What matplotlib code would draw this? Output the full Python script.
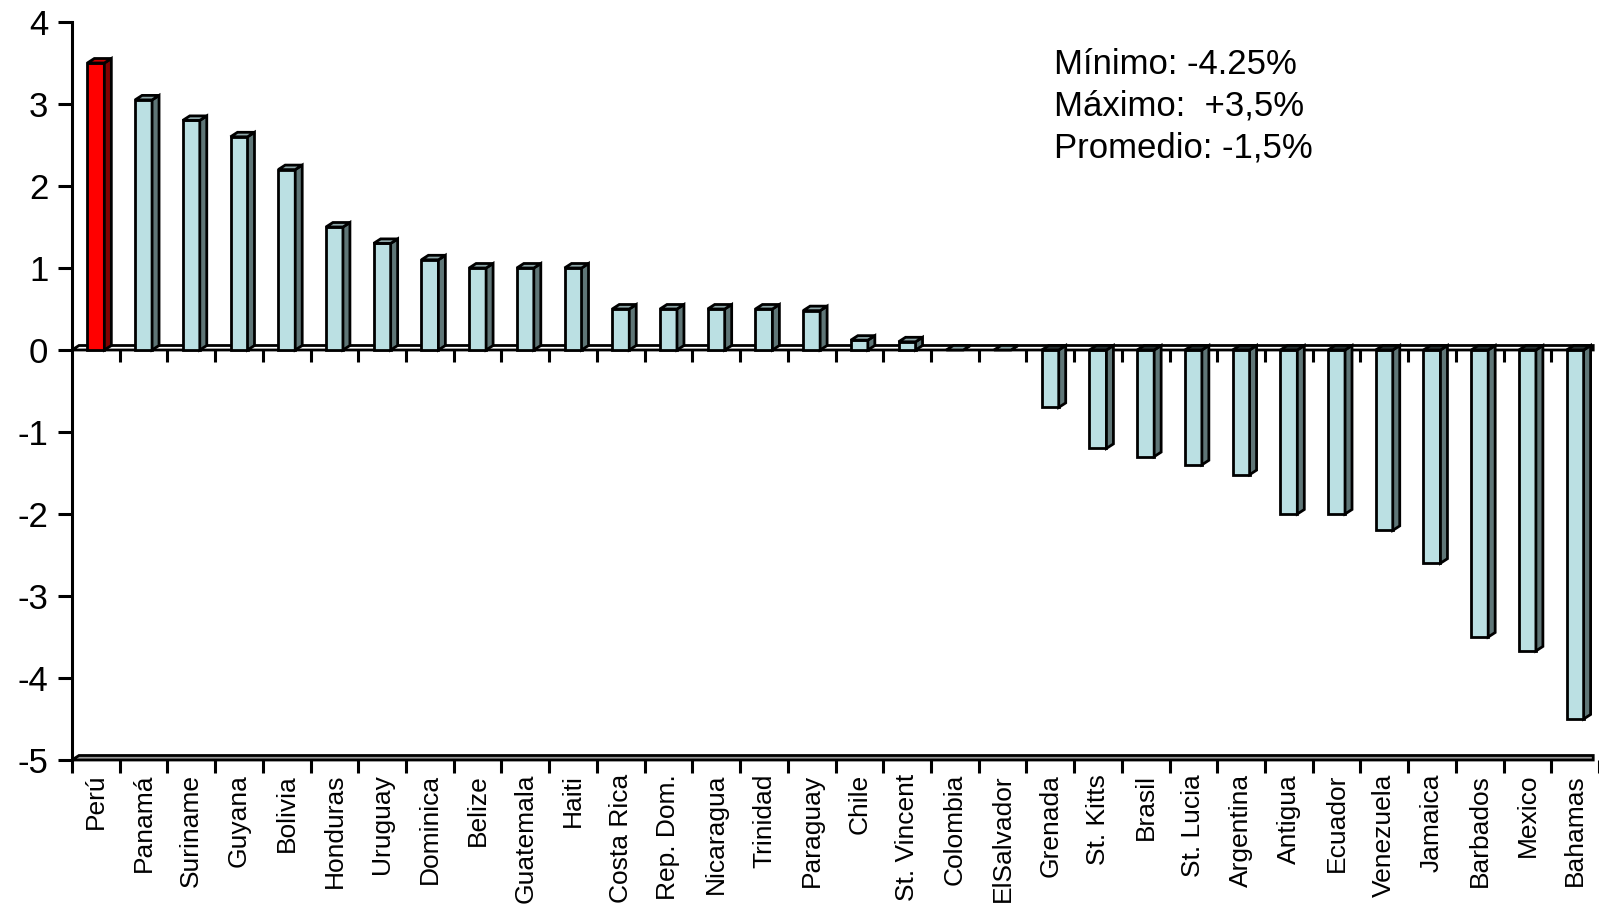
import numpy as np
import matplotlib.pyplot as plt
from matplotlib.patches import Polygon, Rectangle

plt.rcParams['font.family'] = ['Liberation Sans', 'DejaVu Sans']

countries = ["Perú", "Panamá", "Suriname", "Guyana", "Bolivia", "Honduras",
             "Uruguay", "Dominica", "Belize", "Guatemala", "Haiti", "Costa Rica",
             "Rep. Dom.", "Nicaragua", "Trinidad", "Paraguay", "Chile",
             "St. Vincent", "Colombia", "ElSalvador", "Grenada", "St. Kitts",
             "Brasil", "St. Lucia", "Argentina", "Antigua", "Ecuador",
             "Venezuela", "Jamaica", "Barbados", "Mexico", "Bahamas"]
growth = [3.5, 3.05, 2.8, 2.6, 2.2, 1.5,
          1.3, 1.1, 1.0, 1.0, 1.0, 0.5,
          0.5, 0.5, 0.5, 0.48, 0.12,
          0.1, 0.0, 0.0, -0.7, -1.2,
          -1.3, -1.4, -1.52, -2.0, -2.0,
          -2.2, -2.6, -3.5, -3.67, -4.5]
highlight = "Perú"
y_ticks = [4, 3, 2, 1, 0, -1, -2, -3, -4, -5]
notes = ["Mínimo: -4.25%", "Máximo:  +3,5%", "Promedio: -1,5%"]

# colours for the faces of the pseudo-3d columns
face_blue, side_blue, top_blue = "#BBE0E3", "#5F7677", "#8FA8AA"
face_red, side_red, top_red = "#FF0000", "#800000", "#C80000"

W, H = 1599, 908
fig = plt.figure(figsize=(W / 100, H / 100), dpi=100)
x_left, y_top, y_bot = 72, 22, 760
step = 47.9
ax = fig.add_axes([x_left / W, (H - y_bot) / H, (W - x_left) / W, (y_bot - y_top) / H])
xmax = (W - x_left) / step
ax.set_xlim(0, xmax)
ax.set_ylim(-5, 4)

dx = 7 / step                          # depth offset in x (data units)
dy = 4.5 / ((y_bot - y_top) / 9.0)     # depth offset in y
hw = 0.178                             # half width of a column front
lw = 2.0

# floor at -5 and the zero plane
ax.add_patch(Polygon([(0, -5), (dx, -5 + dy), (xmax, -5 + dy), (xmax, -5)],
                     closed=True, facecolor="#9A9A9A", edgecolor="black", lw=lw,
                     zorder=1, clip_on=False))
ax.add_patch(Polygon([(0, 0), (dx, dy), (xmax, dy), (xmax, 0)],
                     closed=True, facecolor="white", edgecolor="black", lw=lw,
                     zorder=2, clip_on=False))

# ticks hanging under the zero line
for k in range(1, len(countries)):
    ax.plot([k, k], [0, -0.15], color="black", lw=2.2, zorder=2, solid_capstyle="butt")

for i, (name, v) in enumerate(zip(countries, growth)):
    c = i + 0.5
    if name == highlight:
        fc, sc, tc = face_red, side_red, top_red
    else:
        fc, sc, tc = face_blue, side_blue, top_blue
    lo, hi = min(0, v), max(0, v)
    if hi > lo:
        ax.add_patch(Rectangle((c - hw, lo), 2 * hw, hi - lo, facecolor=fc,
                               edgecolor="black", lw=lw, zorder=3))
    ax.add_patch(Polygon([(c + hw, lo), (c + hw, hi), (c + hw + dx, hi + dy),
                          (c + hw + dx, lo + dy)], closed=True, facecolor=sc,
                         edgecolor="black", lw=lw, zorder=3))
    top_c = tc if v >= 0 else "#2A3334"
    ax.add_patch(Polygon([(c - hw, hi), (c + hw, hi), (c + hw + dx, hi + dy),
                          (c - hw + dx, hi + dy)], closed=True, facecolor=top_c,
                         edgecolor="black", lw=lw, zorder=3))

# axes styling
for s in ["top", "right", "bottom"]:
    ax.spines[s].set_visible(False)
ax.spines["left"].set_linewidth(2.2)
ax.spines["left"].set_bounds(-5, 4)

ax.set_yticks(y_ticks)
ax.set_yticklabels([str(t) for t in y_ticks], fontsize=25)
ax.tick_params(axis="y", direction="out", length=10, width=2.2, pad=7)

ax.set_xticks(np.arange(0, len(countries) + 1))
ax.set_xticklabels([])
ax.tick_params(axis="x", which="major", direction="out", length=9, width=2.2)
ax.set_xticks(np.arange(len(countries)) + 0.5, minor=True)
ax.set_xticklabels(countries, minor=True, rotation=90, fontsize=19, va="top", ha="center")
ax.tick_params(axis="x", which="minor", length=0, pad=10)

for j, line in enumerate(notes):
    ax.text((1058 - x_left) / step, (350 - 65 - 41.5 * j) / 82.0, line,
            fontsize=25, ha="left", va="center")

fig.savefig("out.png", dpi=100)
